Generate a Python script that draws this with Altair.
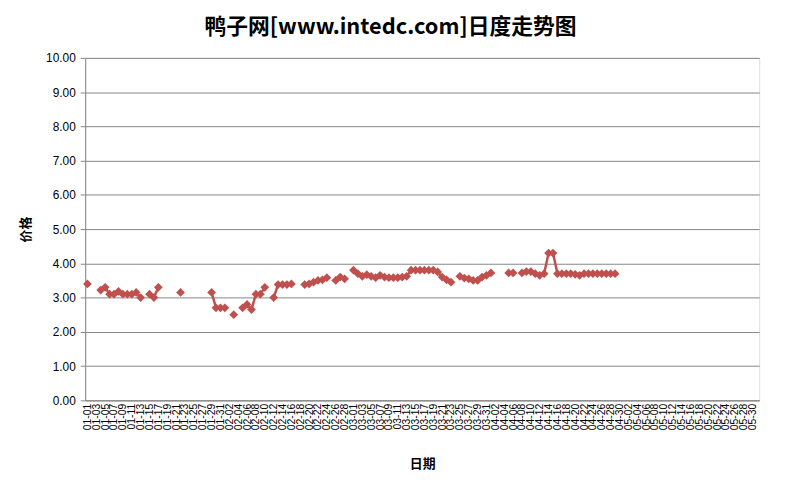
import altair as alt
import pandas as pd

# Category axis: every day from 01-01 to 05-31 (leap year)
categories = [d.strftime("%m-%d") for d in pd.date_range("2012-01-01", "2012-05-31")]
tick_labels = categories[::2]
y_ticks = [0, 1, 2, 3, 4, 5, 6, 7, 8, 9, 10]

obs_dates = [
    "01-01",
    "01-04", "01-05", "01-06", "01-07", "01-08", "01-09", "01-10", "01-11", "01-12", "01-13",
    "01-15", "01-16", "01-17",
    "01-22",
    "01-29", "01-30", "01-31", "02-01",
    "02-03",
    "02-05", "02-06", "02-07", "02-08", "02-09", "02-10",
    "02-12", "02-13", "02-14", "02-15", "02-16",
    "02-19", "02-20", "02-21", "02-22", "02-23", "02-24",
    "02-26", "02-27", "02-28",
    "03-01", "03-02", "03-03", "03-04", "03-05", "03-06", "03-07", "03-08", "03-09", "03-10",
    "03-11", "03-12", "03-13", "03-14", "03-15", "03-16", "03-17", "03-18", "03-19", "03-20",
    "03-21", "03-22", "03-23",
    "03-25", "03-26", "03-27", "03-28", "03-29", "03-30", "03-31", "04-01",
    "04-05", "04-06",
    "04-08", "04-09", "04-10", "04-11", "04-12", "04-13", "04-14", "04-15", "04-16", "04-17",
    "04-18", "04-19", "04-20", "04-21", "04-22", "04-23", "04-24", "04-25", "04-26", "04-27",
    "04-28", "04-29",
]
obs_values = [
    3.40,
    3.22, 3.30, 3.10, 3.10, 3.18, 3.10, 3.10, 3.10, 3.15, 3.00,
    3.10, 3.00, 3.30,
    3.15,
    3.15, 2.70, 2.70, 2.70,
    2.50,
    2.70, 2.80, 2.65, 3.10, 3.10, 3.30,
    3.00, 3.38, 3.38, 3.38, 3.40,
    3.38, 3.40, 3.45, 3.50, 3.52, 3.58,
    3.50, 3.60, 3.55,
    3.80, 3.70, 3.62, 3.67, 3.62, 3.58, 3.65, 3.60, 3.58, 3.58,
    3.58, 3.60, 3.62, 3.80, 3.80, 3.80, 3.80, 3.80, 3.80, 3.75,
    3.60, 3.52, 3.45,
    3.62, 3.57, 3.55, 3.50, 3.50, 3.60, 3.65, 3.72,
    3.72, 3.72,
    3.72, 3.76, 3.76, 3.70, 3.65, 3.70, 4.30, 4.30, 3.70, 3.70,
    3.70, 3.70, 3.68, 3.65, 3.70, 3.70, 3.70, 3.70, 3.70, 3.70,
    3.70, 3.70,
]

# split into runs of consecutive days so gaps are not bridged
pos = {c: i for i, c in enumerate(categories)}
segs = []
seg = 0
prev = None
for d in obs_dates:
    i = pos[d]
    if prev is not None and i != prev + 1:
        seg += 1
    segs.append(seg)
    prev = i

df = pd.DataFrame({"date": obs_dates, "price": obs_values, "seg": segs})

COLOR = "#C0504D"
GRID = "#868686"

x = alt.X(
    "date:O",
    scale=alt.Scale(domain=categories),
    axis=alt.Axis(
        values=tick_labels,
        title="日期",
        labelAngle=270,
        labelFont="Liberation Sans",
        labelFontSize=10.5,
        labelColor="#000000",
        labelPadding=3,
        ticks=False,
        domainColor=GRID,
        domainWidth=1,
        titleFont="Noto Sans CJK SC",
        titleFontSize=13,
        titleFontWeight="bold",
        titleColor="#000000",
        titleBaseline="middle",
        titleY=64,
        grid=False,
    ),
)
y = alt.Y(
    "price:Q",
    scale=alt.Scale(domain=[0, 10], nice=False, zero=True),
    axis=alt.Axis(
        values=y_ticks,
        format=".2f",
        title="价格",
        labelFont="Liberation Sans",
        labelFontSize=12,
        labelColor="#000000",
        labelPadding=5,
        tickSize=5,
        tickColor=GRID,
        domainColor=GRID,
        gridColor=GRID,
        gridWidth=1,
        titleFont="Noto Sans CJK SC",
        titleFontSize=13,
        titleFontWeight="bold",
        titleColor="#000000",
        titleX=-60,
        titleBaseline="middle",
    ),
)

line = alt.Chart().mark_line(color=COLOR, strokeWidth=2.5).encode(
    x=x, y=y, detail="seg:N"
)
points = alt.Chart().mark_point(
    shape="diamond", filled=True, color=COLOR, size=78, opacity=1
).encode(x=x, y=y)

chart = (
    alt.layer(line, points, data=df)
    .properties(
        width=681,
        height=346,
        title=alt.TitleParams(
            "鸭子网[www.intedc.com]日度走势图",
            font="Noto Sans CJK SC",
            fontSize=22,
            fontWeight="bold",
            color="#000000",
            anchor="middle",
            dx=-32,
            offset=13,
        ),
        padding={"left": 78, "top": 48, "right": 19, "bottom": 70},
        autosize=alt.AutoSizeParams(type="none"),
    )
    .configure_view(strokeWidth=0)
    .configure(background="#FFFFFF")
)

chart.save("out.html", embed_options={"renderer": "svg", "actions": False})
